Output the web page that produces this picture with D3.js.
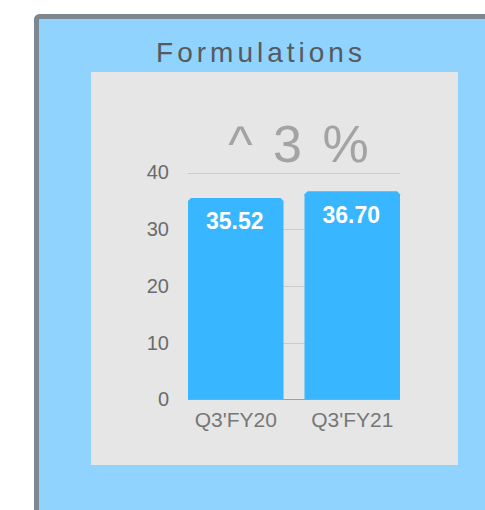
<!DOCTYPE html>
<html>
<head>
<meta charset="utf-8">
<script src="https://cdn.jsdelivr.net/npm/d3@7"></script>
<style>
  body { margin: 0; background: #fff; }
  svg { display: block; font-family: "Liberation Sans", Arial, sans-serif; }
</style>
</head>
<body>
<div id="chart"></div>
<script>
// data
const categories = ["Q3'FY20", "Q3'FY21"];
const values = [35.52, 36.70];
const yTicks = [0, 10, 20, 30, 40];
const title = "Formulations";
const growthLabel = "^ 3 %";

const width = 485, height = 510;

const svg = d3.select("#chart").append("svg")
  .attr("width", width)
  .attr("height", height);

// outer card
svg.append("rect")
  .attr("x", 36.5).attr("y", 16.5)
  .attr("width", 520).attr("height", 540)
  .attr("rx", 3)
  .attr("fill", "#8FD3FE")
  .attr("stroke", "#7E868F")
  .attr("stroke-width", 5);

svg.append("text")
  .attr("x", 261)
  .attr("y", 61.5)
  .attr("text-anchor", "middle")
  .attr("font-size", 28)
  .attr("letter-spacing", 4)
  .attr("fill", "#555a5e")
  .text(title);

// grey panel
svg.append("rect")
  .attr("x", 91).attr("y", 72)
  .attr("width", 367).attr("height", 393)
  .attr("fill", "#E6E6E6");

const x = d3.scaleBand()
  .domain(categories)
  .range([188, 400])
  .paddingInner(0.18)
  .paddingOuter(0);

const y = d3.scaleLinear()
  .domain([0, 40])
  .range([399.5, 172.5]);

// gridlines
svg.append("g")
  .selectAll("line")
  .data(yTicks.filter(d => d > 0))
  .join("line")
  .attr("x1", 188).attr("x2", 400)
  .attr("y1", d => Math.round(y(d)) + 0.5)
  .attr("y2", d => Math.round(y(d)) + 0.5)
  .attr("stroke", "#CBCBCB");

// y axis labels
const yAxis = svg.append("g")
  .attr("transform", "translate(178,0)")
  .call(d3.axisLeft(y).tickValues(yTicks).tickSize(0).tickPadding(9));
yAxis.select(".domain").remove();
yAxis.selectAll("text")
  .attr("font-size", 20)
  .attr("font-family", "Liberation Sans, Arial, sans-serif")
  .attr("fill", "#6b6b6b");

// bars with clipped top corners
const c = 3;
svg.append("g")
  .selectAll("path")
  .data(values)
  .join("path")
  .attr("d", (d, i) => {
    const x0 = x(categories[i]), x1 = x0 + x.bandwidth();
    const top = y(d), base = y(0);
    return `M${x0},${base}V${top + c}L${x0 + c},${top}H${x1 - c}L${x1},${top + c}V${base}Z`;
  })
  .attr("fill", "#38B6FF");

// baseline
svg.append("line")
  .attr("x1", 188).attr("x2", 400)
  .attr("y1", y(0)).attr("y2", y(0))
  .attr("stroke", "#A0A0A0");

// value labels
svg.append("g")
  .selectAll("text")
  .data(values)
  .join("text")
  .attr("x", (d, i) => x(categories[i]) + x.bandwidth() / 2 - 1)
  .attr("y", d => y(d) + 31.5)
  .attr("text-anchor", "middle")
  .attr("font-size", 23)
  .attr("font-weight", "bold")
  .attr("fill", "#fff")
  .text(d => d.toFixed(2));

// x axis labels
const xAxis = svg.append("g")
  .attr("transform", `translate(0,${y(0)})`)
  .call(d3.axisBottom(x).tickSize(0).tickPadding(13));
xAxis.select(".domain").remove();
xAxis.selectAll("text")
  .attr("font-size", 21)
  .attr("font-family", "Liberation Sans, Arial, sans-serif")
  .attr("fill", "#777");

// growth label
svg.append("text")
  .attr("x", 300)
  .attr("y", 162)
  .attr("text-anchor", "middle")
  .attr("font-size", 52)
  .attr("letter-spacing", 3)
  .attr("fill", "#A3A3A3")
  .text(growthLabel);
</script>
</body>
</html>
